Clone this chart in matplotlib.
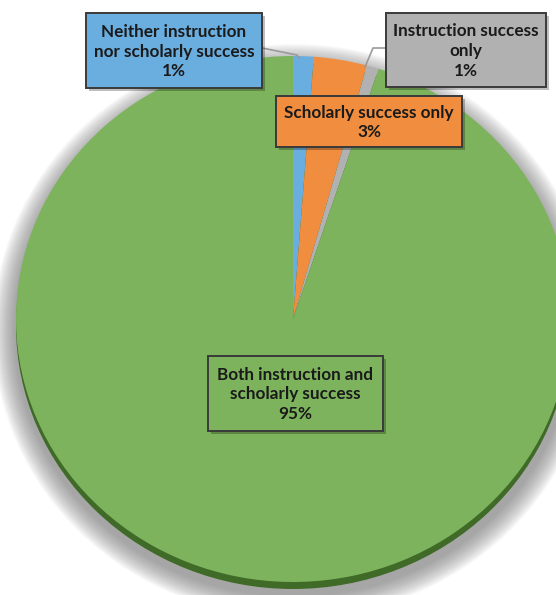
import matplotlib
matplotlib.use("Agg")
from matplotlib import pyplot as plt
from matplotlib.patches import Ellipse, Rectangle

labels = [
    "Neither instruction\nnor scholarly success\n1%",
    "Scholarly success only\n3%",
    "Instruction success\nonly\n1%",
    "Both instruction and\nscholarly success\n95%",
]
values = [1.2, 3.1, 0.7, 95.0]
colors = ["#6aaee0", "#f08d3e", "#b1b1b1", "#7db35c"]

# pixel geometry of the reference image
W, H = 556, 595
CX, CY, RX, RY = 293, 319, 277, 263


def px(x, y):
    return (x - CX) / RX, (CY - y) / RY


def pw(w):
    return w / RX


def ph(h):
    return h / RY


fig = plt.figure(figsize=(W / 100, H / 100), dpi=100)
ax = fig.add_axes([0, 0, 1, 1])

# soft shadow around the pie
for i in range(22):
    grow = 24 - i
    ax.add_patch(Ellipse(px(CX + 1, CY + 12), 2 * pw(RX + grow), 2 * ph(RY + grow),
                         color="#6a6a6a", alpha=0.035, lw=0, zorder=0))
# thickness of the pie (dark bottom edge)
ax.add_patch(Ellipse(px(CX, CY + 7), 2.0, 2.0, color="#3f6a27", lw=0, zorder=1))

wedges, _ = ax.pie(values, colors=colors, startangle=90, counterclock=False,
                   radius=1, wedgeprops=dict(linewidth=0))
for w in wedges:
    w.set_zorder(2)

ax.set_aspect("auto")
ax.set_xlim((0 - CX) / RX, (W - CX) / RX)
ax.set_ylim((CY - H) / RY, CY / RY)
ax.axis("off")

# leader lines
ax.plot(*zip(px(262, 48), px(297, 55), px(299, 58)), color="#9a9a9a", lw=1.2, zorder=3)
ax.plot(*zip(px(387, 48), px(373, 48), px(365, 67)), color="#9a9a9a", lw=1.2, zorder=3)

# label boxes: left, top, right, bottom in pixels
boxes = [(86, 13, 262, 88), (276, 96, 462, 147), (386, 13, 546, 87), (208, 356, 383, 431)]

for (l, t, r, b), text, col in zip(boxes, labels, colors):
    ax.add_patch(Rectangle(px(l + 3, b + 3), pw(r - l), ph(b - t), color="#000000",
                           alpha=0.25, lw=0, zorder=4))
    ax.add_patch(Rectangle(px(l, b), pw(r - l), ph(b - t), facecolor=col,
                           edgecolor="#3a3a3a", lw=1.4, zorder=5))
    ax.text(*px((l + r) / 2, (t + b) / 2 + 1), text, ha="center", va="center",
            fontsize=12.3, fontweight="bold", family=["Lato", "DejaVu Sans"],
            color="#1a1a1a", linespacing=1.3, zorder=6)

fig.savefig("out.png", dpi=100)
